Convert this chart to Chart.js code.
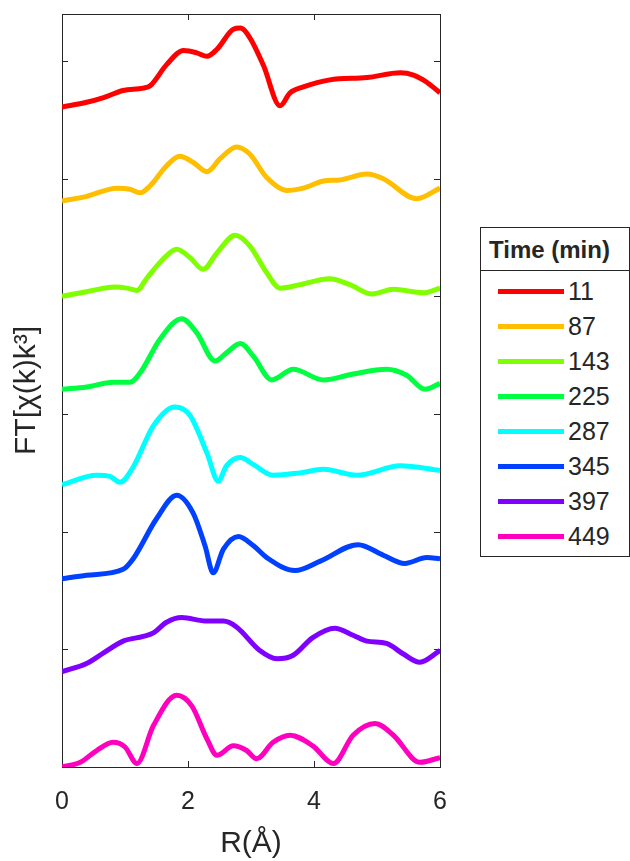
<!DOCTYPE html>
<html>
<head>
<meta charset="utf-8">
<script src="https://cdn.jsdelivr.net/npm/chart.js@4.4.0/dist/chart.umd.min.js"></script>
<style>
  body { margin: 0; background: #fff; font-family: "Liberation Sans", Arial, sans-serif; }
  #wrap { position: relative; width: 630px; height: 861px; }
  #legend { position: absolute; left: 480px; top: 227px; width: 148px; border: 1px solid #262626; background: #fff; color: #262626; }
  #legend .title { font-weight: bold; font-size: 24px; height: 42px; line-height: 44px; padding-left: 8px; border-bottom: 1px solid #262626; white-space: nowrap; }
  #legend .items { padding: 3px 0 2px 0; }
  #legend .item { height: 35px; display: flex; align-items: center; font-size: 25px; }
  #legend .swatch { width: 66px; height: 5px; margin-left: 17px; margin-right: 4px; }
</style>
</head>
<body>
<div id="wrap">
  <canvas id="myChart" width="630" height="861"></canvas>
  <div id="legend"><div class="title">Time (min)</div><div class="items" id="legendItems"></div></div>
</div>
<script>
// legend labels (min) and line colours
const times = [11, 87, 143, 225, 287, 345, 397, 449];
const colors = ['#ff0000', '#ffbf00', '#80ff00', '#00ff40', '#00ffff', '#0040ff', '#8000ff', '#ff00bf'];

// R values (Å) and stacked FT magnitudes
const r11 = [0, 0.39, 0.66, 0.97, 1.29, 1.40, 1.66, 1.93, 2.14, 2.30, 2.46, 2.72, 2.83, 2.98, 3.20, 3.46, 3.62, 3.83, 4.25, 4.84, 5.37, 5.58, 5.79, 6.0];
const ft11 = [5.61, 5.65, 5.69, 5.75, 5.77, 5.79, 5.97, 6.09, 6.07, 6.04, 6.10, 6.27, 6.28, 6.20, 5.96, 5.62, 5.73, 5.78, 5.84, 5.86, 5.90, 5.88, 5.82, 5.73];

const r87 = [0, 0.39, 0.87, 1.08, 1.24, 1.40, 1.66, 1.87, 2.08, 2.30, 2.51, 2.77, 2.98, 3.25, 3.57, 3.83, 4.15, 4.41, 4.84, 5.10, 5.63, 6.0];
const ft87 = [4.81, 4.85, 4.92, 4.91, 4.88, 4.94, 5.11, 5.19, 5.14, 5.06, 5.17, 5.27, 5.21, 5.01, 4.90, 4.92, 4.98, 4.99, 5.04, 5.00, 4.83, 4.92];

const r143 = [0, 0.39, 0.84, 1.03, 1.19, 1.34, 1.61, 1.82, 2.03, 2.24, 2.46, 2.75, 2.98, 3.25, 3.46, 3.78, 4.25, 4.57, 4.92, 5.26, 5.73, 6.0];
const ft143 = [4.00, 4.04, 4.08, 4.07, 4.05, 4.15, 4.32, 4.40, 4.33, 4.23, 4.37, 4.52, 4.43, 4.20, 4.07, 4.10, 4.15, 4.10, 4.02, 4.06, 4.03, 4.07];

const r225 = [0, 0.39, 0.81, 1.08, 1.24, 1.56, 1.90, 2.14, 2.43, 2.61, 2.83, 3.04, 3.33, 3.67, 4.15, 4.62, 5.15, 5.47, 5.76, 6.0];
const ft225 = [3.21, 3.23, 3.27, 3.27, 3.35, 3.64, 3.81, 3.69, 3.45, 3.52, 3.60, 3.49, 3.29, 3.38, 3.29, 3.34, 3.38, 3.33, 3.21, 3.26];

const r287 = [0, 0.55, 0.76, 0.92, 1.13, 1.45, 1.79, 2.03, 2.30, 2.48, 2.61, 2.83, 3.04, 3.35, 3.78, 4.15, 4.68, 5.37, 6.0];
const ft287 = [2.40, 2.48, 2.47, 2.42, 2.55, 2.90, 3.06, 2.99, 2.67, 2.43, 2.56, 2.63, 2.57, 2.48, 2.50, 2.53, 2.48, 2.56, 2.52];

const r345 = [0, 0.39, 0.97, 1.13, 1.50, 1.82, 2.08, 2.27, 2.40, 2.56, 2.80, 3.04, 3.25, 3.70, 4.10, 4.70, 5.10, 5.44, 5.79, 6.0];
const ft345 = [1.60, 1.63, 1.68, 1.77, 2.11, 2.31, 2.16, 1.88, 1.65, 1.85, 1.96, 1.88, 1.78, 1.67, 1.75, 1.89, 1.80, 1.73, 1.78, 1.77];

const r397 = [0, 0.39, 0.66, 0.97, 1.29, 1.45, 1.66, 1.90, 2.30, 2.56, 2.77, 3.14, 3.41, 3.67, 3.98, 4.33, 4.62, 4.84, 5.15, 5.42, 5.68, 6.0];
const ft397 = [0.81, 0.88, 0.97, 1.07, 1.11, 1.14, 1.23, 1.27, 1.24, 1.24, 1.19, 0.99, 0.92, 0.95, 1.10, 1.18, 1.12, 1.07, 1.05, 0.96, 0.89, 0.99];

const r449 = [0, 0.29, 0.55, 0.81, 1.0, 1.19, 1.45, 1.82, 2.06, 2.30, 2.46, 2.72, 2.93, 3.09, 3.35, 3.62, 3.98, 4.31, 4.62, 4.97, 5.26, 5.68, 6.0];
const ft449 = [0.0, 0.04, 0.14, 0.21, 0.17, 0.03, 0.35, 0.61, 0.52, 0.24, 0.10, 0.18, 0.14, 0.07, 0.21, 0.27, 0.18, 0.03, 0.27, 0.37, 0.27, 0.04, 0.08];

const rValues = [r11, r87, r143, r225, r287, r345, r397, r449];
const ftValues = [ft11, ft87, ft143, ft225, ft287, ft345, ft397, ft449];

const textColor = '#262626';

const datasets = times.map((t, i) => ({
    label: String(t),
    data: rValues[i].map((r, j) => ({ x: r, y: ftValues[i][j] })),
    borderColor: colors[i],
    borderWidth: 5,
    pointRadius: 0,
    fill: false,
    cubicInterpolationMode: 'monotone'
}));

// box round the plot and inward tick marks, matlab style
const boxTicks = {
    id: 'boxTicks',
    beforeDatasetsDraw(chart) {
        const { ctx, chartArea: a, scales: { x, y } } = chart;
        ctx.save();
        ctx.strokeStyle = textColor;
        ctx.lineWidth = 1;
        ctx.strokeRect(a.left + 0.5, a.top + 0.5, a.right - a.left, a.bottom - a.top);
        ctx.beginPath();
        x.ticks.forEach(t => {
            if (t.value <= x.min || t.value >= x.max) return;
            const px = Math.round(x.getPixelForValue(t.value)) + 0.5;
            ctx.moveTo(px, a.bottom); ctx.lineTo(px, a.bottom - 6);
            ctx.moveTo(px, a.top); ctx.lineTo(px, a.top + 6);
        });
        y.ticks.forEach(t => {
            if (!Number.isInteger(t.value) || t.value <= y.min || t.value >= y.max) return;
            const py = Math.round(y.getPixelForValue(t.value)) + 0.5;
            ctx.moveTo(a.left, py); ctx.lineTo(a.left + 6, py);
            ctx.moveTo(a.right, py); ctx.lineTo(a.right - 6, py);
        });
        ctx.stroke();
        ctx.restore();
    }
};

const ctx = document.getElementById('myChart').getContext('2d');
const myChart = new Chart(ctx, {
    type: 'line',
    data: { datasets: datasets },
    options: {
        responsive: false,
        animation: false,
        layout: { padding: { top: 14, right: 190, left: 0, bottom: 0 } },
        plugins: { legend: { display: false }, tooltip: { enabled: false } },
        scales: {
            x: {
                type: 'linear',
                min: 0, max: 6,
                grid: { display: false },
                border: { display: false },
                ticks: { stepSize: 2, padding: 12, color: textColor, font: { family: 'Liberation Sans', size: 25 } },
                title: { display: true, text: 'R(Å)', color: textColor, padding: { top: 0, bottom: 2 }, font: { family: 'Liberation Sans', size: 30, lineHeight: 1.0 } }
            },
            y: {
                type: 'linear',
                min: 0, max: 6.4,
                grid: { display: false },
                border: { display: false },
                ticks: { display: false, stepSize: 1 },
                title: { display: true, text: 'FT[χ(k)k³]', color: textColor, padding: { top: 9, bottom: 9 }, font: { family: 'Liberation Sans', size: 30 } }
            }
        }
    },
    plugins: [boxTicks]
});

// html legend with a title row, built from the same arrays
const legendItems = document.getElementById('legendItems');
times.forEach((t, i) => {
    const row = document.createElement('div');
    row.className = 'item';
    row.innerHTML = '<span class="swatch" style="background:' + colors[i] + '"></span><span>' + t + '</span>';
    legendItems.appendChild(row);
});
</script>
</body>
</html>
